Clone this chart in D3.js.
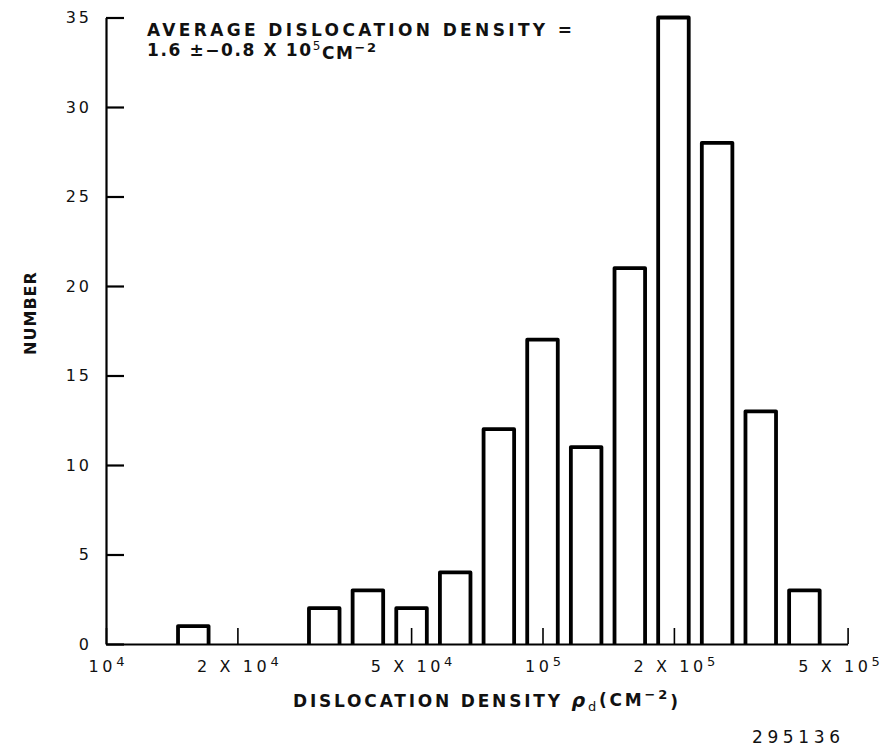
<!DOCTYPE html>
<html>
<head>
<meta charset="utf-8">
<script src="https://cdn.jsdelivr.net/npm/d3@7"></script>
<style>
  body { margin: 0; background: #fff; }
  text { font-family: "DejaVu Sans", sans-serif; fill: #111; }
</style>
</head>
<body>
<div id="chart"></div>
<script>
// histogram bins: centre of each bin as log10(density), and the count in it
var binCenters = [4.2, 4.5, 4.6, 4.7, 4.8, 4.9, 5.0, 5.1, 5.2, 5.3, 5.4, 5.5, 5.6];
var counts = [1, 2, 3, 2, 4, 12, 17, 11, 21, 35, 28, 13, 3];

var xTickValues = [1e4, 2e4, 5e4, 1e5, 2e5, 5e5];
var xTickPrefix = ["", "2 X ", "5 X ", "", "2 X ", "5 X "];
var xTickExp = ["4", "4", "4", "5", "5", "5"];
var yTickValues = [0, 5, 10, 15, 20, 25, 30, 35];

var svgWidth = 888;
var svgHeight = 748;
var binHalf = 0.035; // half bar width, in decades

var svg = d3.select("#chart")
  .append("svg")
  .attr("width", svgWidth)
  .attr("height", svgHeight);

svg.append("rect")
  .attr("width", svgWidth)
  .attr("height", svgHeight)
  .attr("fill", "#fff");

var x = d3.scaleLog()
  .domain([1e4, 5e5])
  .range([106, 847.6]);

var y = d3.scaleLinear()
  .domain([0, 35])
  .range([644, 17.5]);

// bars (open at the bottom, sitting on the axis)
svg.selectAll(".bar")
  .data(binCenters)
  .enter()
  .append("path")
  .attr("class", "bar")
  .attr("d", function(c, i) {
    var x0 = x(Math.pow(10, c - binHalf));
    var x1 = x(Math.pow(10, c + binHalf));
    return "M" + x0 + "," + y(0) + "V" + y(counts[i]) + "H" + x1 + "V" + y(0);
  })
  .attr("fill", "none")
  .attr("stroke", "#000")
  .attr("stroke-width", 3.8)
  .attr("stroke-linejoin", "round");

// y axis, ticks pointing inward
var leftAxis = d3.axisLeft(y)
  .tickValues(yTickValues)
  .tickSize(-18)
  .tickSizeOuter(0)
  .tickPadding(14);

var yAxis = svg.append("g")
  .attr("transform", "translate(106,0)")
  .call(leftAxis);

yAxis.select(".domain").attr("stroke", "#000").attr("stroke-width", 2.2);
yAxis.selectAll(".tick line").attr("stroke", "#000").attr("stroke-width", 2.2);
yAxis.selectAll(".tick text")
  .attr("font-family", "DejaVu Sans")
  .attr("font-size", 16)
  .attr("letter-spacing", 3)
  .attr("fill", "#222");

// x axis, log scale, ticks pointing up
var bottomAxis = d3.axisBottom(x)
  .tickValues(xTickValues)
  .tickSize(-16)
  .tickSizeOuter(0)
  .tickPadding(17);

var xAxis = svg.append("g")
  .attr("transform", "translate(0," + y(0) + ")")
  .call(bottomAxis);

xAxis.select(".domain").attr("stroke", "#000").attr("stroke-width", 2.2);
xAxis.selectAll(".tick line").attr("stroke", "#000").attr("stroke-width", 1.6);

xAxis.selectAll(".tick text")
  .text(null)
  .attr("font-family", "DejaVu Sans")
  .attr("font-size", 16)
  .attr("letter-spacing", 3.6)
  .attr("fill", "#222")
  // last label sits a little left so it stays on the page
  .attr("dx", function(d, i) { return i === xTickValues.length - 1 ? -9 : 0; })
  .each(function(d, i) {
    var t = d3.select(this);
    t.append("tspan").text(xTickPrefix[i] + "10");
    t.append("tspan")
      .attr("dy", "-0.5em")
      .attr("font-size", 13)
      .attr("letter-spacing", 0)
      .text(xTickExp[i]);
  });

// title
svg.append("text")
  .attr("x", 147)
  .attr("y", 36)
  .attr("font-size", 17)
  .attr("font-weight", "bold")
  .attr("textLength", 425)
  .attr("lengthAdjust", "spacing")
  .text("AVERAGE DISLOCATION DENSITY =");

var title2 = svg.append("text")
  .attr("x", 147)
  .attr("y", 56)
  .attr("font-size", 17)
  .attr("font-weight", "bold")
  .attr("letter-spacing", 1.6);
title2.append("tspan").text("1.6 \u00b1\u22120.8 X 10");
title2.append("tspan").attr("dy", "-0.5em").attr("font-size", 12).attr("font-weight", "normal").text("5");
title2.append("tspan").attr("dy", "0.5em").text("CM");
title2.append("tspan").attr("dy", "-0.5em").attr("font-size", 13).text("\u22122");

// y axis label
svg.append("text")
  .attr("transform", "translate(36,313) rotate(-90)")
  .attr("text-anchor", "middle")
  .attr("font-size", 16)
  .attr("font-weight", "bold")
  .attr("letter-spacing", 1)
  .text("NUMBER");

// x axis label
var xLabel = svg.append("text")
  .attr("x", 293)
  .attr("y", 707)
  .attr("font-size", 17)
  .attr("font-weight", "bold")
  .attr("letter-spacing", 2.8);
xLabel.append("tspan").text("DISLOCATION DENSITY ");
xLabel.append("tspan").attr("font-style", "italic").attr("font-size", 19).text("\u03c1");
xLabel.append("tspan").attr("dy", "0.3em").attr("font-size", 13).attr("font-weight", "normal").text("d");
xLabel.append("tspan").attr("dy", "-0.3em").text("(CM");
xLabel.append("tspan").attr("dy", "-0.5em").attr("font-size", 13).text("\u22122");
xLabel.append("tspan").attr("dy", "0.5em").text(")");

// figure number
svg.append("text")
  .attr("x", 752)
  .attr("y", 743)
  .attr("font-size", 17)
  .attr("textLength", 88)
  .attr("lengthAdjust", "spacing")
  .text("295136");
</script>
</body>
</html>
